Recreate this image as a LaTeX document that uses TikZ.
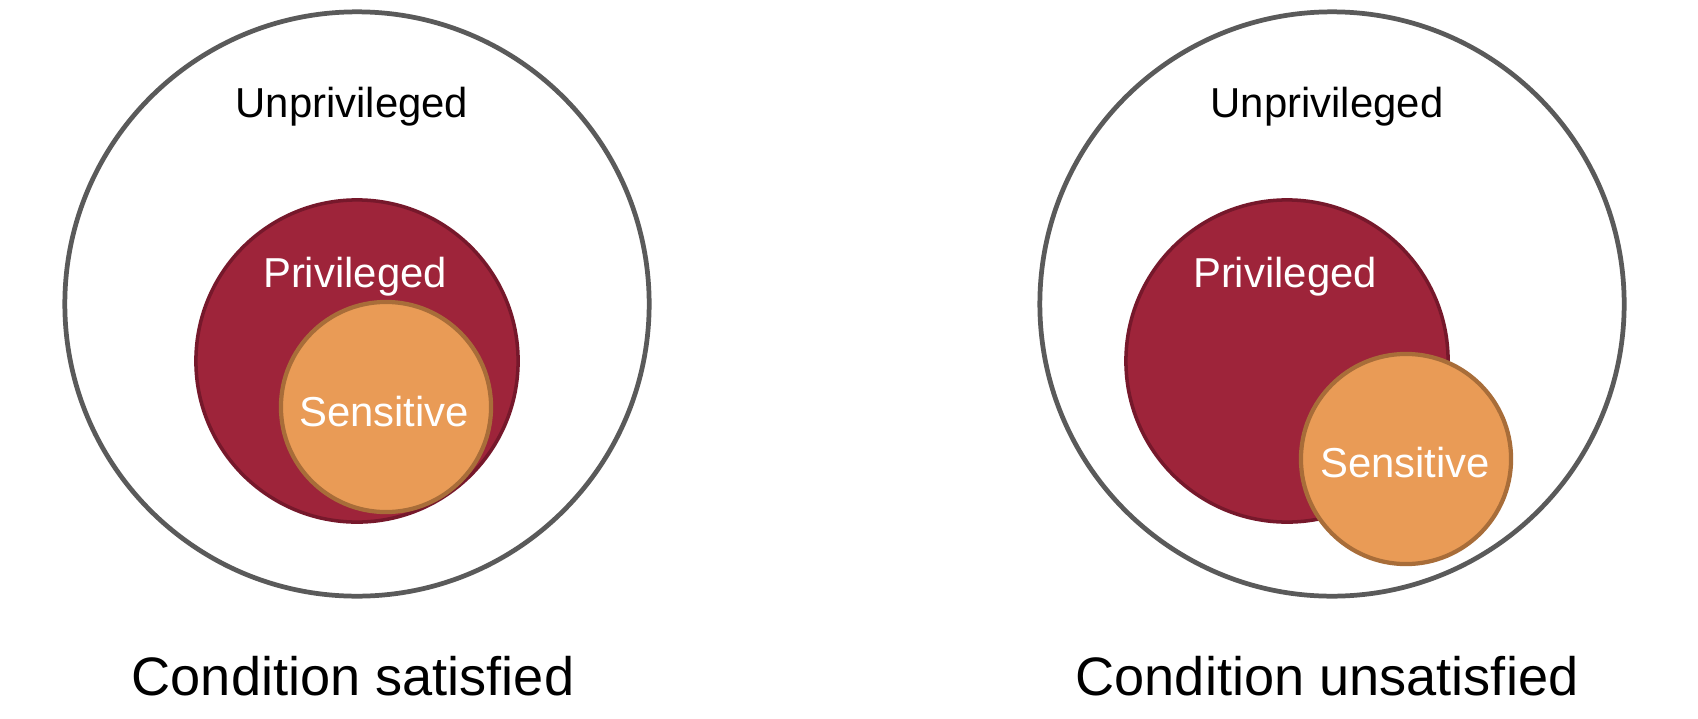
\documentclass[tikz,border=0pt]{standalone}
\usepackage{fontspec}
\setmainfont{Liberation Sans}
\usetikzlibrary{positioning}
\definecolor{ringgray}{RGB}{90,90,90}
\definecolor{privred}{RGB}{158,36,58}
\definecolor{privedge}{RGB}{118,24,43}
\definecolor{sensorange}{RGB}{233,155,86}
\definecolor{sensedge}{RGB}{168,109,57}

\begin{document}
\begin{tikzpicture}[
    x=0.01cm, y=-0.01cm,
    outer/.style={circle, draw=ringgray, line width=1.35pt, fill=white, minimum size=5.84cm, inner sep=0pt},
    priv/.style={circle, draw=privedge, line width=1pt, fill=privred, minimum size=3.22cm, inner sep=0pt},
    sens/.style={circle, draw=sensedge, line width=1.2pt, fill=sensorange, minimum size=2.1cm, inner sep=0pt},
    lbl/.style={anchor=base, font=\fontsize{11.9}{14}\selectfont},
    wlbl/.style={lbl, text=white},
    caption/.style={anchor=base, font=\fontsize{15.4}{18}\selectfont}
]
\useasboundingbox (0,0) rectangle (1698,718);

% Condition satisfied
\node[outer] (outerL) at (357,304) {};
\node[priv] (privL) at (357,361) {};
\node[sens] (sensL) at (386,407) {};
\node[lbl] (unprivL) at (352,117) {Unprivileged};
\node[wlbl] (privtxtL) at (355,287) {Privileged};
\node[wlbl] (senstxtL) at (384,426) {Sensitive};
\node[caption] (capL) at (353,695) {Condition satisfied};

% Condition unsatisfied
\node[outer] (outerR) at (1332,304) {};
\node[priv] (privR) at (1287,361) {};
\node[sens] (sensR) at (1406,459) {};
\node[lbl] (unprivR) at (1327,117) {Unprivileged};
\node[wlbl] (privtxtR) at (1285,287) {Privileged};
\node[wlbl] (senstxtR) at (1405,477) {Sensitive};
\node[caption] (capR) at (1327,695) {Condition unsatisfied};

\end{tikzpicture}
\end{document}
